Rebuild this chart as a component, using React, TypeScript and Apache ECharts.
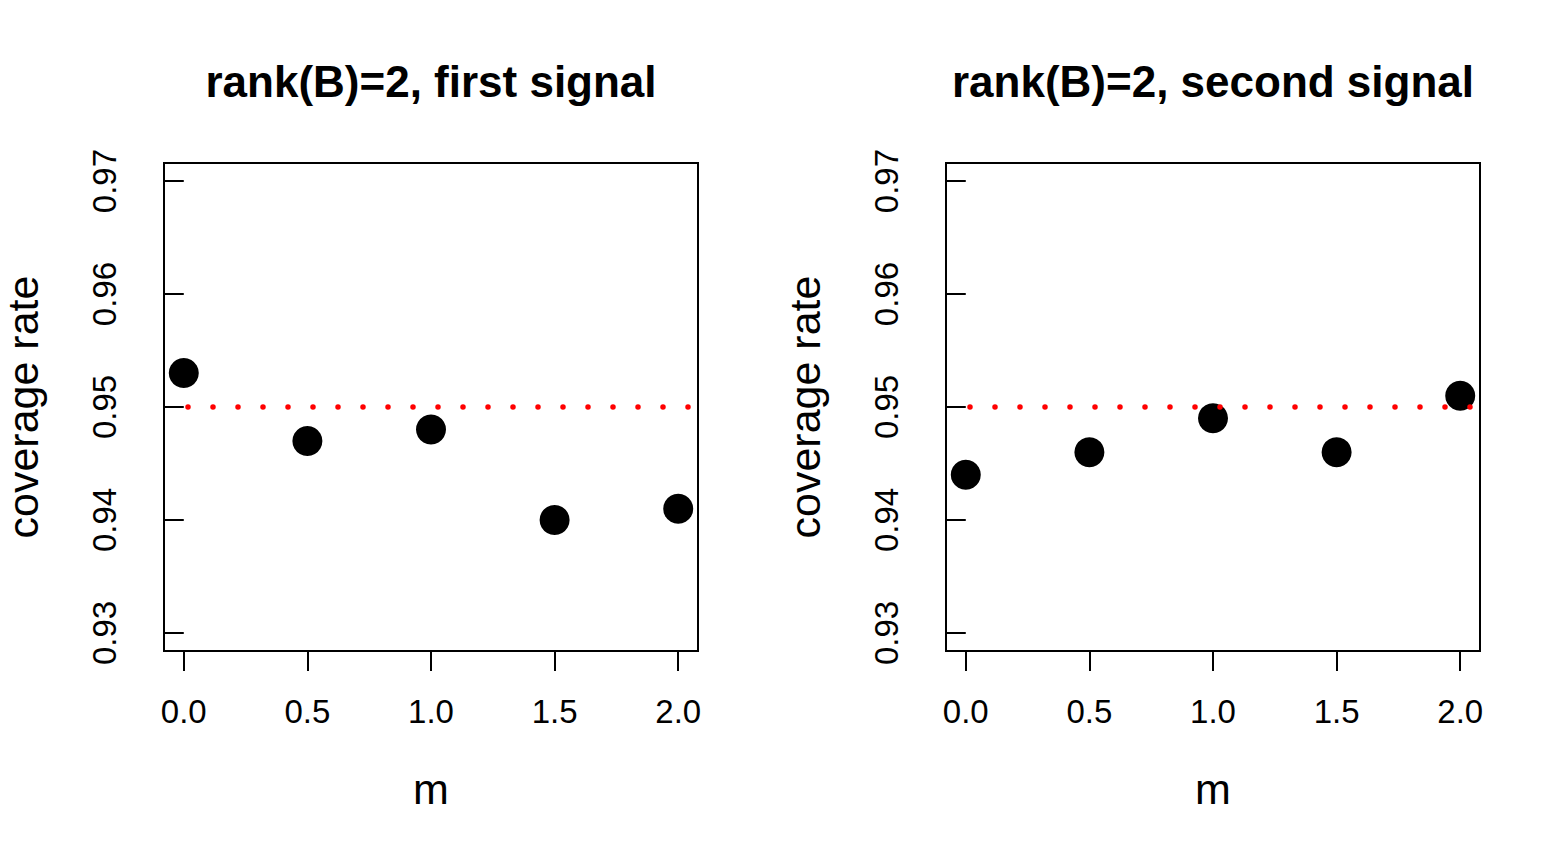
import React, { useEffect, useRef } from "react";
import * as echarts from "echarts";

const M_VALUES = [0, 0.5, 1, 1.5, 2];
const FIRST_SIGNAL = [0.953, 0.947, 0.948, 0.94, 0.941];
const SECOND_SIGNAL = [0.944, 0.946, 0.949, 0.946, 0.951];
const NOMINAL = 0.95;
const X_TICKS = [0, 0.5, 1, 1.5, 2];
const Y_TICKS = [0.93, 0.94, 0.95, 0.96, 0.97];
const TITLES = ["rank(B)=2, first signal", "rank(B)=2, second signal"];
const X_LABEL = "m";
const Y_LABEL = "coverage rate";

const FONT = "'Liberation Sans', Arial, Helvetica, sans-serif";

export default function App() {
  const ref = useRef<HTMLDivElement>(null);
  useEffect(() => {
    document.body.style.margin = "0";
    if (!ref.current) return;
    const chart = echarts.init(ref.current, null, { renderer: "svg" });

    const xSpan = X_TICKS[X_TICKS.length - 1] - X_TICKS[0];
    const ySpan = Y_TICKS[Y_TICKS.length - 1] - Y_TICKS[0];
    const xMin = X_TICKS[0] - 0.04 * xSpan;
    const xMax = X_TICKS[X_TICKS.length - 1] + 0.04 * xSpan;
    const yMin = Y_TICKS[0] - 0.04 * ySpan;
    const yMax = Y_TICKS[Y_TICKS.length - 1] + 0.04 * ySpan;

    const grids = [
      { left: 164, top: 163, width: 534, height: 488 },
      { left: 946, top: 163, width: 534, height: 488 },
    ];
    const datasets = [FIRST_SIGNAL, SECOND_SIGNAL];

    const option: any = {
      animation: false,
      backgroundColor: "#ffffff",
      grid: grids.map((g) => ({
        ...g,
        show: true,
        borderColor: "#000",
        borderWidth: 2,
        backgroundColor: "transparent",
        containLabel: false,
      })),
      xAxis: grids.map((_, i) => ({
        type: "value",
        gridIndex: i,
        min: xMin,
        max: xMax,
        axisLine: { show: false },
        splitLine: { show: false },
        axisTick: {
          show: true,
          inside: false,
          length: 20,
          customValues: X_TICKS,
          lineStyle: { color: "#000", width: 2 },
        },
        axisLabel: {
          show: true,
          customValues: X_TICKS,
          formatter: (v: number) => v.toFixed(1),
          fontSize: 33,
          color: "#000",
          fontFamily: FONT,
          margin: 44,
        },
        name: X_LABEL,
        nameLocation: "middle",
        nameGap: 116,
        nameTextStyle: { fontSize: 43, color: "#000", fontFamily: FONT },
      })),
      yAxis: grids.map((_, i) => ({
        type: "value",
        gridIndex: i,
        min: yMin,
        max: yMax,
        axisLine: { show: false },
        splitLine: { show: false },
        axisTick: {
          show: true,
          inside: false,
          length: 20,
          customValues: Y_TICKS,
          lineStyle: { color: "#000", width: 2 },
        },
        axisLabel: {
          show: true,
          customValues: Y_TICKS,
          formatter: (v: number) => v.toFixed(2),
          rotate: 90,
          fontSize: 33,
          color: "#000",
          fontFamily: FONT,
          margin: 43,
        },
        name: Y_LABEL,
        nameLocation: "middle",
        nameGap: 120,
        nameTextStyle: { fontSize: 43, color: "#000", fontFamily: FONT },
      })),
      graphic: grids.map((g, i) => ({
        type: "text",
        x: g.left + g.width / 2,
        y: 81,
        style: {
          text: TITLES[i],
          fontSize: 44,
          fontWeight: "bold",
          fontFamily: FONT,
          fill: "#000",
          textAlign: "center",
          textVerticalAlign: "middle",
        },
      })),
      series: [
        ...datasets.map((vals, i) => ({
          type: "scatter",
          xAxisIndex: i,
          yAxisIndex: i,
          symbol: "circle",
          symbolSize: 30,
          itemStyle: { color: "#000", opacity: 1 },
          data: M_VALUES.map((m, j) => [m, vals[j]]),
          z: 2,
        })),
        ...grids.map((_, i) => ({
          type: "line",
          xAxisIndex: i,
          yAxisIndex: i,
          symbol: "none",
          clip: true,
          data: [
            [xMin, NOMINAL],
            [xMax, NOMINAL],
          ],
          lineStyle: {
            color: "#ff0000",
            width: 5.5,
            type: [0, 25],
            cap: "round",
            dashOffset: 1,
          },
          z: 3,
        })),
      ],
    };

    chart.setOption(option);
    return () => chart.dispose();
  }, []);

  return <div ref={ref} style={{ width: 1564, height: 856 }} />;
}
